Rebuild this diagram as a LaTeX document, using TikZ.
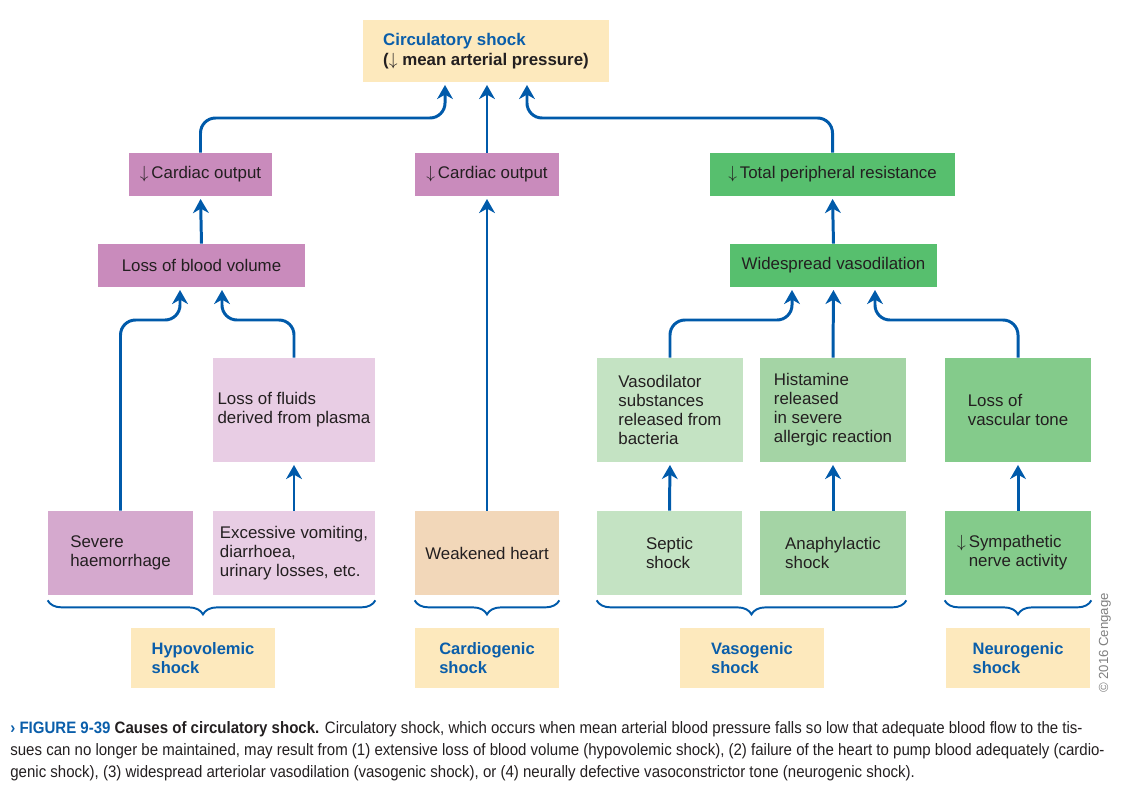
\documentclass[tikz,border=0pt]{standalone}
\usepackage{fontspec}
\setmainfont{Liberation Sans}
\newfontfamily\capfont[FakeStretch=0.91]{Liberation Sans}
\usetikzlibrary{arrows.meta,decorations.pathreplacing}

\definecolor{arrblue}{RGB}{0,90,170}
\definecolor{txtblue}{RGB}{10,94,170}
\definecolor{txtgray}{RGB}{35,31,32}
\definecolor{lblyellow}{RGB}{253,233,189}
\definecolor{mauve}{RGB}{201,139,188}
\definecolor{mauvemid}{RGB}{213,169,206}
\definecolor{mauvelight}{RGB}{232,205,228}
\definecolor{peach}{RGB}{242,215,185}
\definecolor{greendark}{RGB}{87,191,110}
\definecolor{greenmid}{RGB}{164,212,165}
\definecolor{greenlight}{RGB}{196,227,195}
\definecolor{greenneuro}{RGB}{132,203,139}

\tikzset{
  box/.style={inner sep=0pt, align=left, text=txtgray, font=\fontsize{9.6}{10.8}\selectfont},
  flat/.style={box, minimum height=0.86cm},
  tall/.style={box, minimum width=2.92cm, minimum height=2.08cm},
  base/.style={box, minimum width=2.92cm, minimum height=1.68cm},
  lbl/.style={box, fill=lblyellow, minimum width=2.88cm, minimum height=1.2cm, text=txtblue,
    font=\fontsize{9.4}{10.8}\selectfont\bfseries},
  arr/.style={draw=arrblue, line width=1.7pt, rounded corners=0.3cm, shorten >=1.5pt,
    -{Stealth[length=8pt,width=9pt,inset=2.5pt]}},
  brc/.style={draw=arrblue, line width=1.1pt, decorate, decoration={brace,mirror,amplitude=8pt}}
}

\begin{document}
\begin{tikzpicture}[x=0.02cm,y=-0.02cm]
\useasboundingbox (0,0) rectangle (1140,794);

% top
\node[box, fill=lblyellow, minimum width=4.92cm, minimum height=1.24cm, font=\fontsize{9.6}{11.4}\selectfont\bfseries]
  (top) at (486,51) {\textcolor{txtblue}{Circulatory shock}\\($\downarrow$ mean arterial pressure)};

% second row
\node[flat, fill=mauve, minimum width=2.86cm] (co1) at (200.5,174.5) {$\downarrow$\,Cardiac output};
\node[flat, fill=mauve, minimum width=2.88cm] (co2) at (487,174.5) {$\downarrow$\,Cardiac output};
\node[flat, fill=greendark, minimum width=4.9cm] (tpr) at (832.5,174.5) {$\downarrow$\,Total peripheral resistance};

% third row
\node[flat, fill=mauve, minimum width=4.14cm] (lbv) at (201.5,265.5) {Loss of blood volume};
\node[flat, fill=greendark, minimum width=4.14cm] (wv) at (833.5,265.5) {Widespread vasodilation};

% fourth row
\node[tall, fill=mauvelight, minimum width=3.24cm] (lfp) at (294,410) {Loss of fluids\\derived from plasma};
\node[tall, fill=greenlight] (vds) at (670,410) {Vasodilator\\substances\\released from\\bacteria};
\node[tall, fill=greenmid] (his) at (833,410) {Histamine\\released\\in severe\\allergic reaction};
\node[tall, fill=greenneuro] (lvt) at (1018,410) {Loss of\\vascular tone};

% bottom row
\node[base, fill=mauvemid, minimum width=2.9cm] (sev) at (120.5,553) {Severe\\haemorrhage};
\node[base, fill=mauvelight, minimum width=3.24cm] (exc) at (294,553) {Excessive vomiting,\\diarrhoea,\\urinary losses, etc.};
\node[base, fill=peach, minimum width=2.88cm] (wh) at (487,553) {Weakened heart};
\node[base, fill=greenlight, minimum width=2.9cm] (sep) at (669.5,553) {Septic\\shock};
\node[base, fill=greenmid] (ana) at (833,553) {Anaphylactic\\shock};
\node[base, fill=greenneuro] (sym) at (1018,553) {\makebox[0pt][r]{$\downarrow$\,}Sympathetic\\nerve activity};

% shock types
\node[lbl] (hyp) at (203,658) {Hypovolemic\\shock};
\node[lbl] (car) at (487,658) {Cardiogenic\\shock};
\node[lbl] (vas) at (752,658) {Vasogenic\\shock};
\node[lbl] (neu) at (1018,658) {Neurogenic\\shock};

\coordinate (lv1) at (0,118);
\coordinate (lv2) at (0,320);

% arrows
\draw[arr] (co1.north) -- (co1.north |- lv1) -| ([xshift=-0.82cm]top.south);
\draw[arr] (co2.north) -- (co2.north |- top.south);
\draw[arr] (tpr.north) -- (tpr.north |- lv1) -| ([xshift=0.82cm]top.south);
\draw[arr] (lbv.north) -- (co1.south);
\draw[arr] (wh.north) -- (co2.south);
\draw[arr] (wv.north) -- (tpr.south);
\draw[arr] (sev.north) -- (sev.north |- lv2) -| ([xshift=-0.43cm]lbv.south);
\draw[arr] (lfp.north) -- (lfp.north |- lv2) -| ([xshift=0.41cm]lbv.south);
\draw[arr] (exc.north) -- (lfp.south);
\draw[arr] (vds.north) -- (vds.north |- lv2) -| ([xshift=-0.83cm]wv.south);
\draw[arr] (his.north) -- (wv.south);
\draw[arr] (lvt.north) -- (lvt.north |- lv2) -| ([xshift=0.83cm]wv.south);
\draw[arr] (sep.north) -- (vds.south);
\draw[arr] (ana.north) -- (his.south);
\draw[arr] (sym.north) -- (lvt.south);

% braces
\draw[brc, decoration={aspect=0.474}] ([yshift=-0.1cm]sev.south west) -- ([yshift=-0.1cm]exc.south east);
\draw[brc] ([yshift=-0.1cm]wh.south west) -- ([yshift=-0.1cm]wh.south east);
\draw[brc] ([yshift=-0.1cm]sep.south west) -- ([yshift=-0.1cm]ana.south east);
\draw[brc] ([yshift=-0.1cm]sym.south west) -- ([yshift=-0.1cm]sym.south east);

\node[rotate=90, text=gray, font=\fontsize{7.5}{9}\selectfont] (cpy) at (1105,643) {© 2016 Cengage};

% caption
\begin{scope}[every node/.style={anchor=base west, inner sep=0pt, text=txtgray, font=\capfont\fontsize{9.4}{10}\selectfont}]
\node (cap1) at (10,733) {\textcolor{txtblue}{\textbf{› FIGURE 9-39}} \textbf{Causes of circulatory shock.} Circulatory shock, which occurs when mean arterial blood pressure falls so low that adequate blood flow to the tis-};
\node (cap2) at (10,755) {sues can no longer be maintained, may result from (1) extensive loss of blood volume (hypovolemic shock), (2) failure of the heart to pump blood adequately (cardio-};
\node (cap3) at (10,777) {genic shock), (3) widespread arteriolar vasodilation (vasogenic shock), or (4) neurally defective vasoconstrictor tone (neurogenic shock).};
\end{scope}
\end{tikzpicture}
\end{document}
